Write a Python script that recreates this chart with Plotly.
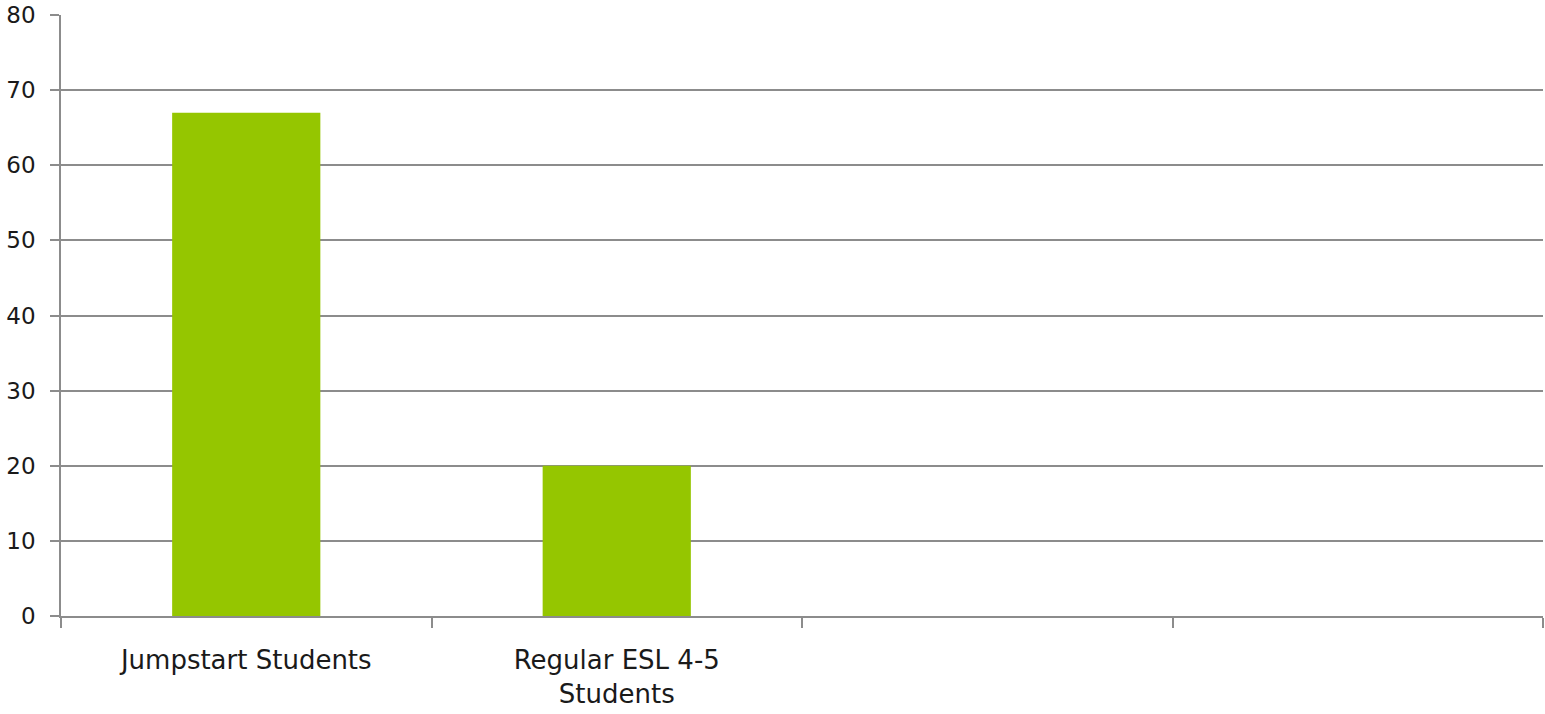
import plotly.graph_objects as go

categories = ["Jumpstart Students", "Regular ESL 4-5<br>Students", " ", "  "]
values = [67, 20, None, None]
y_ticks = [0, 10, 20, 30, 40, 50, 60, 70, 80]

bar_color = "#95C600"
grid_color = "#8C8C8C"
font_family = "Century Gothic, URW Gothic, DejaVu Sans, sans-serif"

fig = go.Figure(go.Bar(x=categories, y=values, marker=dict(color=bar_color, line=dict(width=0))))

fig.update_layout(
    width=1545, height=714,
    margin=dict(l=61, r=2, t=15, b=98),
    plot_bgcolor="white", paper_bgcolor="white",
    bargap=0.6,
    showlegend=False,
    font=dict(family=font_family, size=24, color="#1a1a1a"),
)
fig.update_xaxes(
    type="category",
    tickson="boundaries",
    ticks="outside", ticklen=10, tickwidth=1.5, tickcolor=grid_color,
    showline=True, linecolor=grid_color, linewidth=1.5,
    showgrid=False,
    tickfont=dict(size=26),
    ticklabelstandoff=20,
)
fig.update_yaxes(
    range=[0, 80],
    tickvals=y_ticks,
    ticks="outside", ticklen=9, tickwidth=1.5, tickcolor=grid_color,
    showline=True, linecolor=grid_color, linewidth=1.5,
    showgrid=True, gridcolor=grid_color, gridwidth=1.5,
    zeroline=False,
    tickfont=dict(size=23),
    ticklabelstandoff=10,
)

fig.write_html(
    "out.html",
    config={"displayModeBar": False},
    post_script="document.body.style.margin='0';document.body.style.overflow='hidden';",
)
